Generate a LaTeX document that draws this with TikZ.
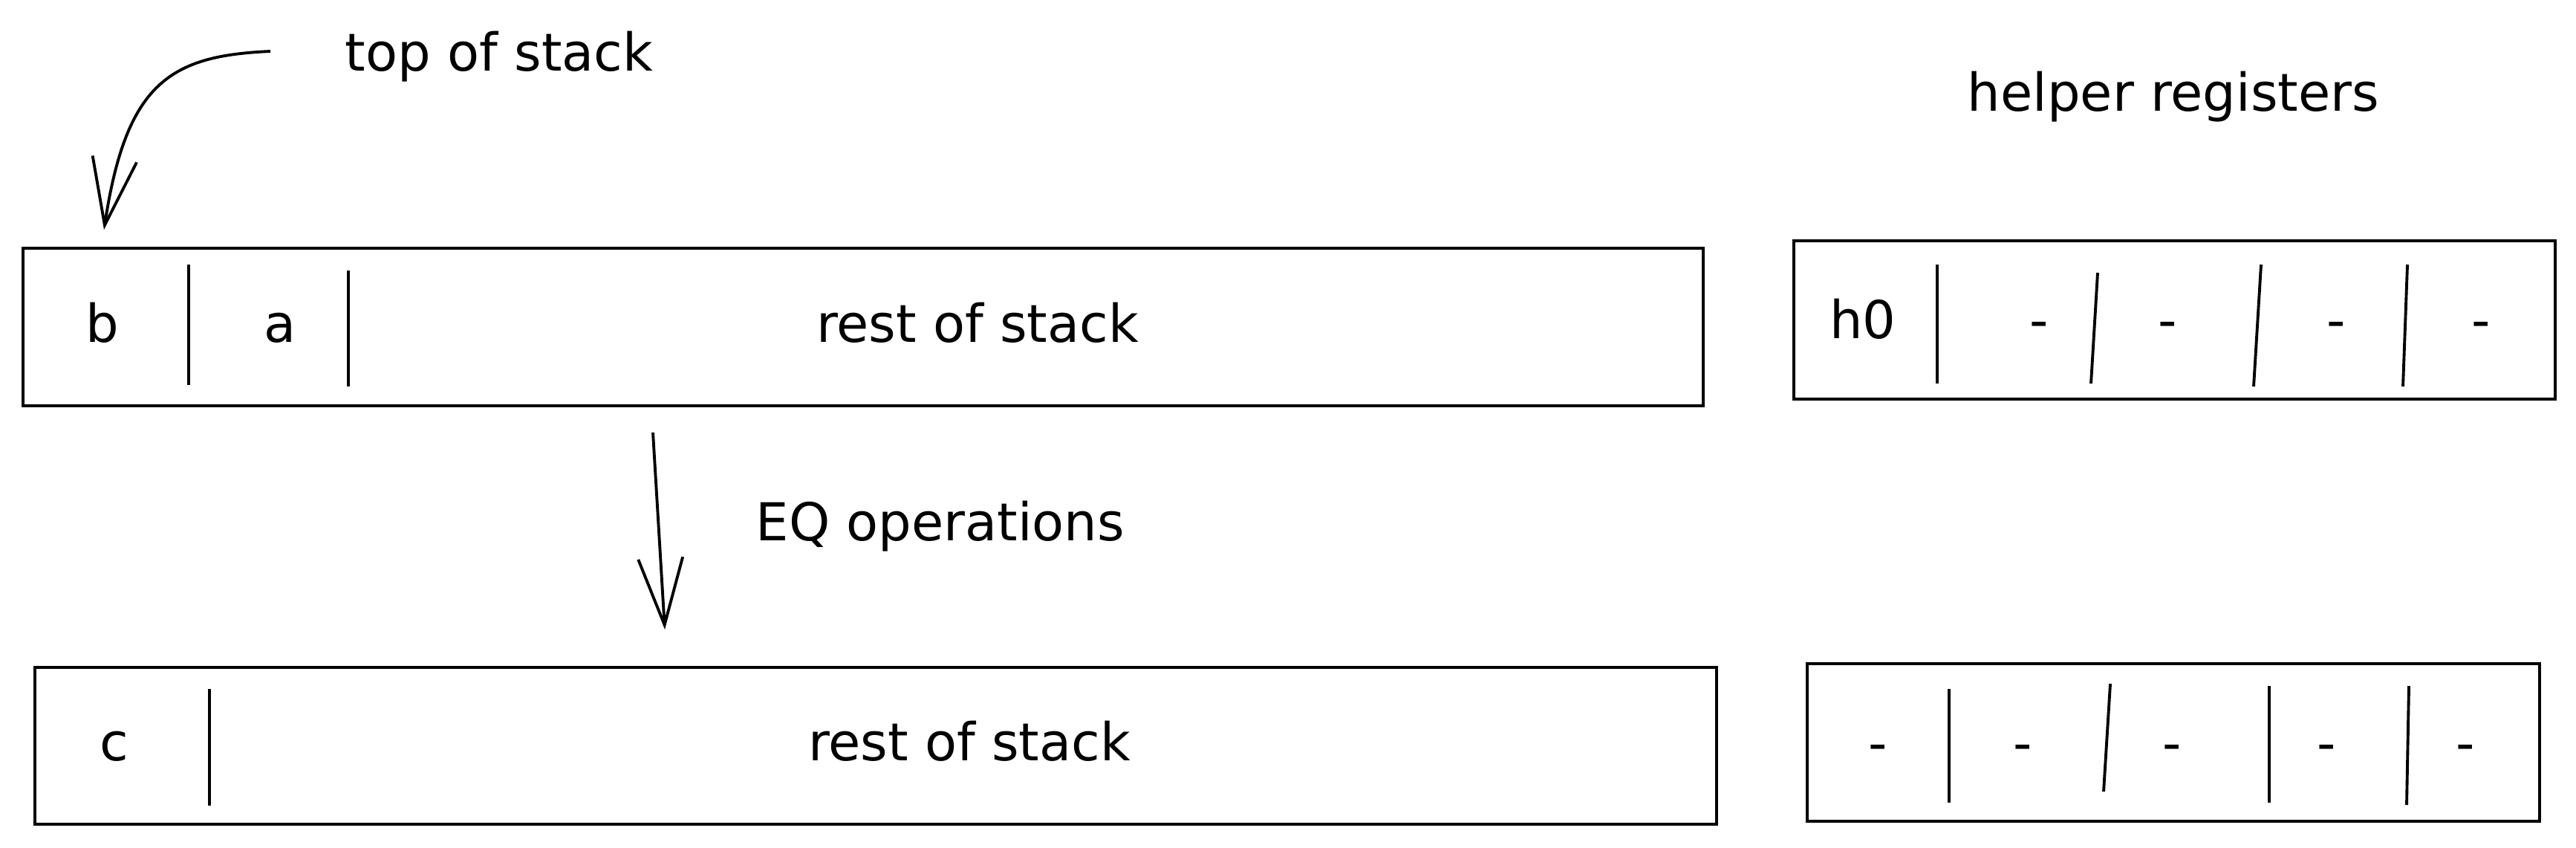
\documentclass[tikz,border=0pt]{standalone}
\usepackage{fontspec}
\setmainfont{DejaVu Sans}
\usetikzlibrary{arrows.meta}

\tikzset{
  caja/.style={draw, line width=1.3pt, inner sep=0pt},
  separador/.style={line width=1.1pt},
  flecha/.style={line width=1.1pt, -{Straight Barb[length=0.9cm, width=0.6cm]}},
}

\begin{document}
\begin{tikzpicture}[every node/.style={font=\fontsize{20}{24}\selectfont}]
  \useasboundingbox (0,0) rectangle (34.68,-11.40);
  % pila antes de EQ
  \node[caja, minimum width=22.62cm, minimum height=2.12cm] (pila1) at (11.62,-4.40) {};
  \draw[separador] (2.54,-3.56) -- (2.54,-5.18);
  \draw[separador] (4.69,-3.64) -- (4.69,-5.20);
  \node[anchor=base] (b) at (1.38,-4.60) {b};
  \node[anchor=base] (a) at (3.77,-4.60) {a};
  \node[anchor=base] (resto1) at (13.16,-4.60) {rest of stack};
  % registros auxiliares antes
  \node[caja, minimum width=10.25cm, minimum height=2.13cm] (reg1) at (29.275,-4.305) {};
  \draw[separador] (26.08,-3.56) -- (26.08,-5.16);
  \draw[separador] (28.24,-3.67) -- (28.15,-5.16);
  \draw[separador] (30.44,-3.56) -- (30.34,-5.20);
  \draw[separador] (32.41,-3.56) -- (32.35,-5.20);
  \node[anchor=base] (h0) at (25.08,-4.55) {h0};
  \foreach \x [count=\i] in {27.45,29.18,31.45,33.40}
    \node[anchor=base] (r\i) at (\x,-4.55) {-};
  % pila despues de EQ
  \node[caja, minimum width=22.64cm, minimum height=2.11cm] (pila2) at (11.79,-10.035) {};
  \draw[separador] (2.82,-9.27) -- (2.82,-10.84);
  \node[anchor=base] (c) at (1.54,-10.23) {c};
  \node[anchor=base] (resto2) at (13.05,-10.23) {rest of stack};
  % registros auxiliares despues
  \node[caja, minimum width=9.86cm, minimum height=2.12cm] (reg2) at (29.26,-9.99) {};
  \draw[separador] (26.24,-9.27) -- (26.24,-10.80);
  \draw[separador] (28.41,-9.20) -- (28.32,-10.65);
  \draw[separador] (30.55,-9.23) -- (30.55,-10.80);
  \draw[separador] (32.43,-9.23) -- (32.40,-10.83);
  \foreach \x [count=\i] in {25.28,27.23,29.24,31.32,33.19}
    \node[anchor=base] (s\i) at (\x,-10.24) {-};
  % rotulos
  \node[anchor=base] (tope) at (6.72,-0.95) {top of stack};
  \node[anchor=base] (aux) at (29.26,-1.49) {helper registers};
  \node[anchor=base] (eq) at (12.66,-7.27) {EQ operations};
  % flechas
  \coordinate (curvaA) at (3.64,-0.69);
  \coordinate (curvaB) at (1.40,-3.09);
  \draw[flecha] (curvaA) .. controls (2.30,-0.75) and (1.70,-1.10) .. (curvaB);
  \coordinate (eqA) at (8.79,-5.82);
  \coordinate (eqB) at (8.95,-8.47);
  \draw[flecha] (eqA) -- (eqB);
\end{tikzpicture}
\end{document}
